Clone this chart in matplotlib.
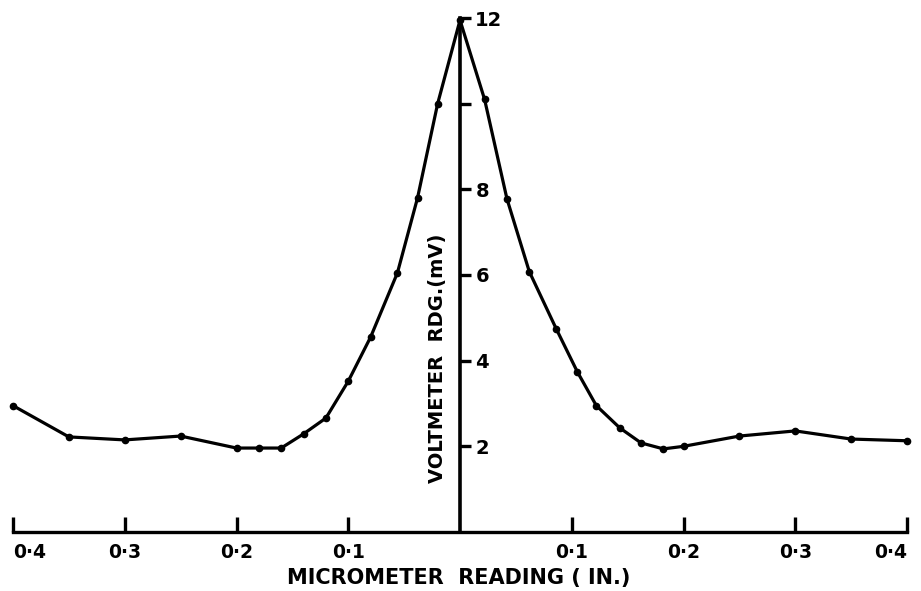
import matplotlib
matplotlib.use("Agg")
import matplotlib.pyplot as plt

# Data
x_vals = [-0.40, -0.35, -0.30, -0.25, -0.20, -0.18, -0.16, -0.14, -0.12, -0.10,
          -0.08, -0.056, -0.038, -0.02, 0.0,
          0.022, 0.042, 0.062, 0.086, 0.105, 0.122, 0.143, 0.162, 0.182, 0.20,
          0.25, 0.30, 0.35, 0.40]
y_vals = [2.95, 2.22, 2.15, 2.24, 1.96, 1.96, 1.96, 2.29, 2.66, 3.52,
          4.55, 6.05, 7.80, 10.0, 11.95,
          10.1, 7.78, 6.08, 4.75, 3.74, 2.95, 2.43, 2.08, 1.94, 2.0,
          2.24, 2.36, 2.17, 2.13]

x_ticks = [-0.4, -0.3, -0.2, -0.1, 0.1, 0.2, 0.3, 0.4]
x_tick_labels = ["0·4", "0·3", "0·2", "0·1", "0·1", "0·2", "0·3", "0·4"]
y_ticks = [2, 4, 6, 8, 10, 12]
y_tick_labels = ["2", "4", "6", "8", "", "12"]

W, H = 921, 591
fig = plt.figure(figsize=(W / 100, H / 100), dpi=100)
left, right = 13 / W, 907 / W
bottom, top = (H - 532) / H, (H - 18) / H
ax = fig.add_axes([left, bottom, right - left, top - bottom])

ax.plot(x_vals, y_vals, color="black", lw=2.3, marker="o", ms=4.5,
        clip_on=False, solid_joinstyle="round", zorder=3)

ax.set_xlim(-0.4, 0.4)
ax.set_ylim(0, 12)

for s in ["top", "left"]:
    ax.spines[s].set_visible(False)
ax.spines["bottom"].set_linewidth(2.4)
ax.spines["right"].set_position(("data", 0))
ax.spines["right"].set_linewidth(2.6)

ax.set_xticks(x_ticks)
ax.set_xticklabels(x_tick_labels, fontsize=13.5, fontweight="bold")
ax.tick_params(axis="x", direction="in", length=11, width=2.4, pad=8)
xt = ax.get_xticklabels()
xt[0].set_horizontalalignment("left")
xt[0].set_x(-0.398)
xt[-1].set_horizontalalignment("right")

ax.yaxis.set_ticks_position("right")
ax.set_yticks(y_ticks)
ax.set_yticklabels(y_tick_labels, fontsize=14, fontweight="bold")
ax.tick_params(axis="y", direction="out", length=8, width=2.4, pad=3)

fig.text(437 / W, 1 - 358 / H, "VOLTMETER  RDG.(mV)", rotation=90,
         ha="center", va="center", fontsize=14, fontweight="bold")
fig.text(459 / W, 1 - 578 / H, "MICROMETER  READING ( IN.)",
         ha="center", va="center", fontsize=15, fontweight="bold")

fig.savefig("out.png", dpi=100, facecolor="white")
